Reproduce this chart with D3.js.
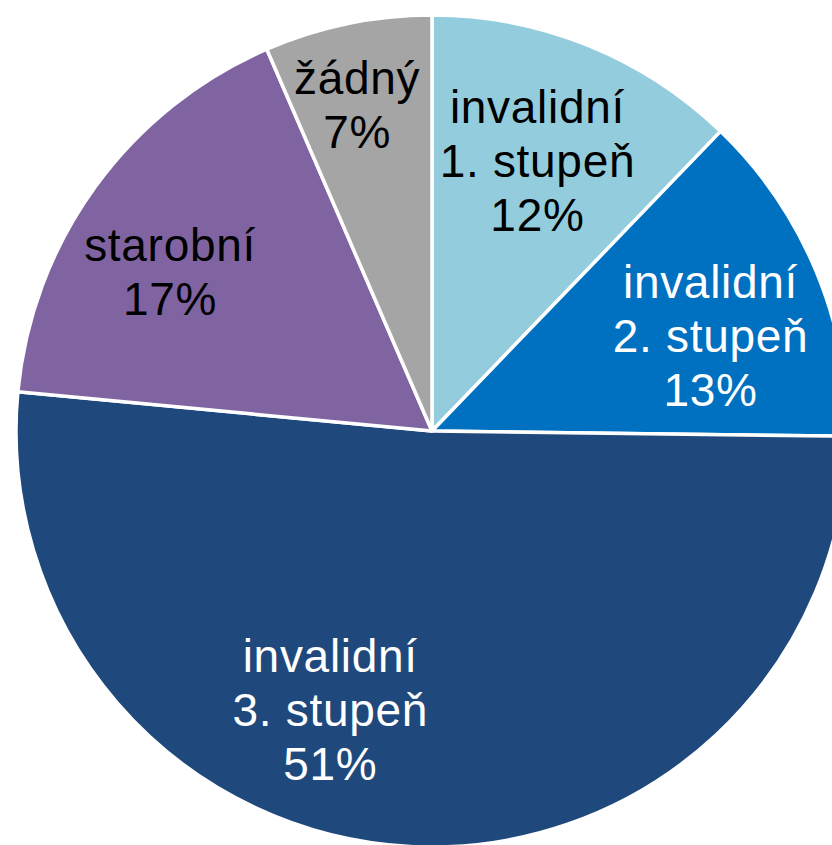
<!DOCTYPE html>
<html>
<head>
<meta charset="utf-8">
<script src="https://cdn.jsdelivr.net/npm/d3@7"></script>
<style>
  body { margin: 0; background: #fff; }
  svg { display: block; }
</style>
</head>
<body>
<script>
//slice data, clockwise from 12 o'clock
var categories = ["invalidní 1. stupeň", "invalidní 2. stupeň", "invalidní 3. stupeň", "starobní", "žádný"];
var shares = [12.2, 13.0, 51.3, 17.0, 6.5];
var labelLines = [["invalidní", "1. stupeň"], ["invalidní", "2. stupeň"], ["invalidní", "3. stupeň"], ["starobní"], ["žádný"]];

//colours per slice
var fills = ["#93CDDD", "#0070C0", "#1F497D", "#8064A2", "#A5A5A5"];
var textFills = ["#000", "#fff", "#fff", "#000", "#000"];

//label nudges from the arc centroid (px), to sit like the original
var nudges = [[-5, 4], [6, 19], [-86, -16], [-23, 15], [-15, -37]];

setChart();

function setChart(){

    var width = 832,
        height = 845,
        cx = 432,
        cy = 431,
        radius = 416,
        fontSize = 46,
        lineH = 54,
        capH = 32;

    var svg = d3.select('body')
        .append('svg')
        .attr('width', width)
        .attr('height', height);

    var g = svg.append('g')
        .attr('transform', 'translate(' + cx + ',' + cy + ')');

    var pie = d3.pie()
        .sort(null)
        .value(function(d){ return d; });

    var arcs = pie(shares);

    var arc = d3.arc()
        .innerRadius(0)
        .outerRadius(radius);

    var labelArc = d3.arc()
        .innerRadius(radius * 0.71)
        .outerRadius(radius * 0.71);

    //slices
    g.selectAll('.slice')
        .data(arcs)
        .enter()
        .append('path')
        .attr('class', 'slice')
        .attr('d', arc)
        .attr('fill', function(d, i){ return fills[i]; })
        .attr('stroke', '#fff')
        .attr('stroke-width', 3.5)
        .attr('stroke-linejoin', 'round');

    //labels: category lines + rounded percent
    var labels = g.selectAll('.label')
        .data(arcs)
        .enter()
        .append('text')
        .attr('class', 'label')
        .attr('text-anchor', 'middle')
        .attr('font-family', 'Arial, "Liberation Sans", sans-serif')
        .attr('font-size', fontSize)
        .attr('letter-spacing', 0.7)
        .attr('fill', function(d, i){ return textFills[i]; });

    labels.each(function(d, i){
        var c = labelArc.centroid(d);
        var x = c[0] + nudges[i][0],
            y = c[1] + nudges[i][1];
        var lines = labelLines[i].concat([Math.round(shares[i]) + '%']);
        var first = y - (lines.length - 1) * lineH / 2 + capH / 2;
        d3.select(this).selectAll('tspan')
            .data(lines)
            .enter()
            .append('tspan')
            .attr('x', x)
            .attr('y', function(t, j){ return first + j * lineH; })
            .text(function(t){ return t; });
    });
}
</script>
</body>
</html>
